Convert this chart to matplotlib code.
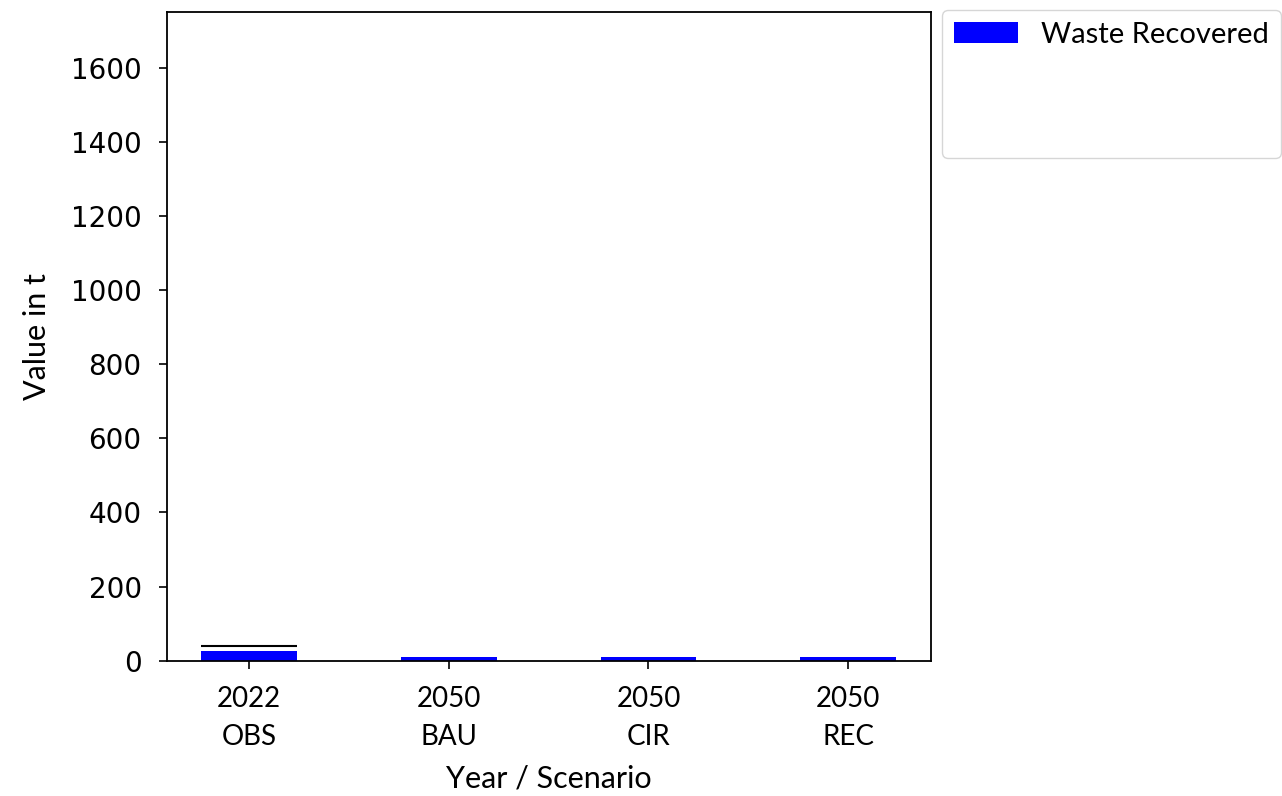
import matplotlib
matplotlib.use("Agg")
import matplotlib.pyplot as plt
from matplotlib.patches import Rectangle
import numpy as np

years = ["2022", "2050", "2050", "2050"]
scenarios = ["OBS", "BAU", "CIR", "REC"]
recovered = [27, 10, 10, 10]
# marker line drawn over the observed bar
obs_reference = 40

label_font = "Lato"

fig, ax = plt.subplots(figsize=(12.82, 7.96), dpi=100)
fig.subplots_adjust(left=0.13, right=0.726, top=0.985, bottom=0.17)

x = np.arange(len(scenarios))
width = 0.48
bars = ax.bar(x, recovered, width=width, color="blue", label="Waste Recovered")
ax.hlines(obs_reference, x[0] - width / 2, x[0] + width / 2, color="black", linewidth=1.5)

ax.set_ylim(0, 1750)
ax.set_yticks(np.arange(0, 1601, 200))
ax.tick_params(axis="y", labelsize=20, length=6, width=1.2, pad=12)
ax.tick_params(axis="x", length=6, width=1.2, pad=12)
ax.set_xticks(x)
ax.set_xticklabels([f"{y}\n{s}" for y, s in zip(years, scenarios)],
                   fontsize=20, family=label_font, linespacing=1.6)
for s in ax.spines.values():
    s.set_linewidth(1.3)

ax.set_xlabel("Year / Scenario", fontsize=22, family=label_font, labelpad=10)
ax.set_ylabel("Value in t", fontsize=22, family=label_font, labelpad=14)

blank = Rectangle((0, 0), 1, 1, fill=False, edgecolor="none", visible=False)
ax.legend([bars, blank, blank], ["Waste Recovered", " ", " "],
          loc="upper left", bbox_to_anchor=(1.015, 1.003), borderaxespad=0,
          prop={"family": label_font, "size": 21}, handlelength=2.2,
          handletextpad=0.8, labelspacing=0.8, fancybox=True)

fig.savefig("out.png", dpi=100)
